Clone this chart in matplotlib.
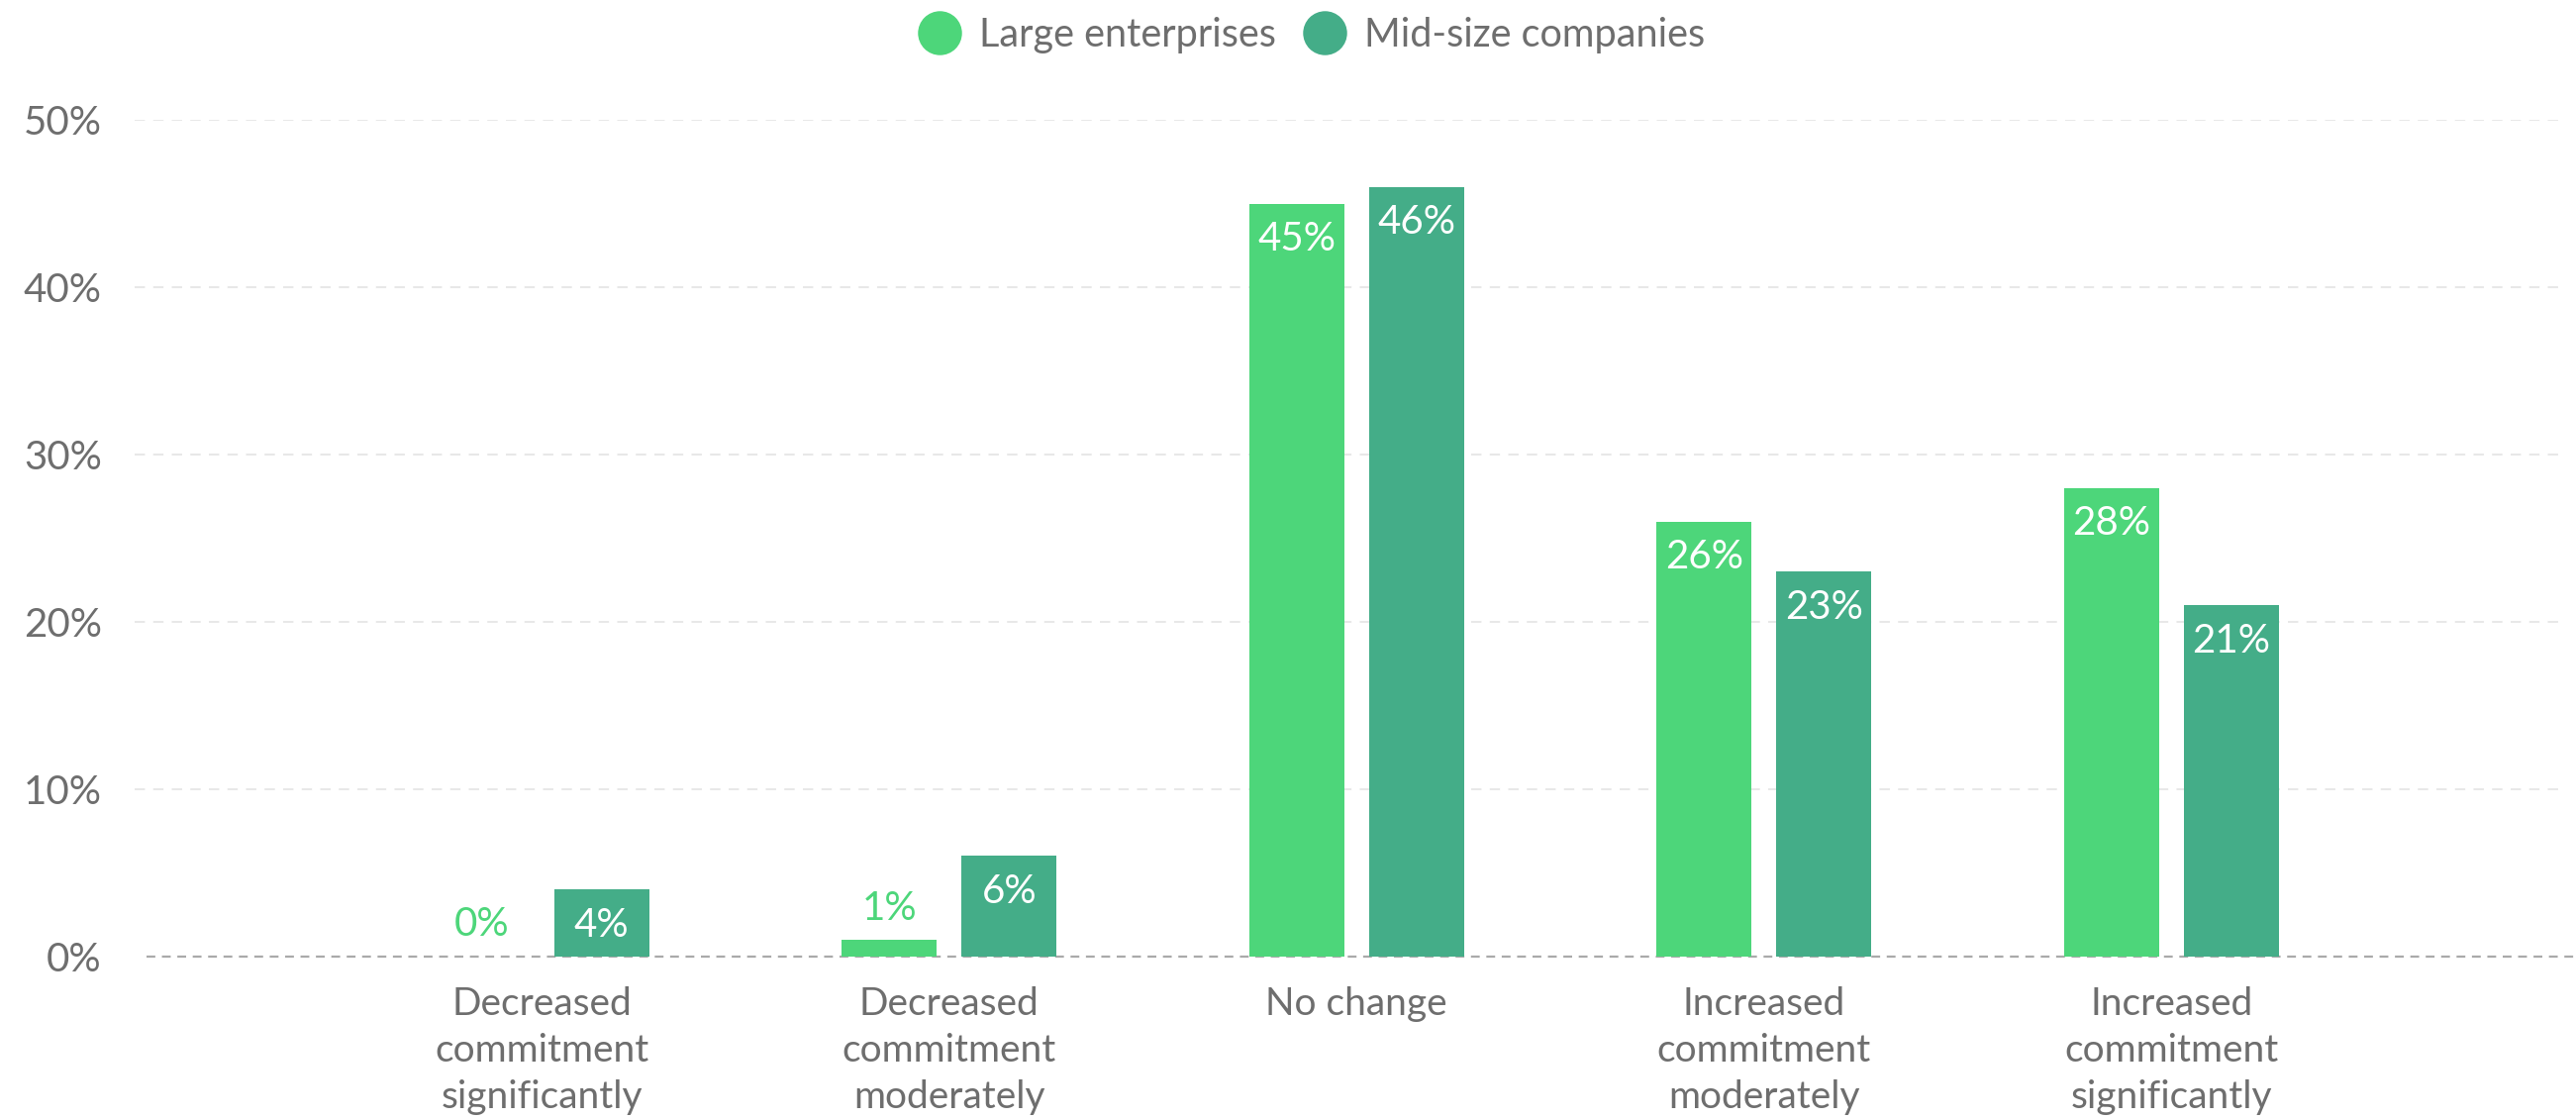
import matplotlib.pyplot as plt
from matplotlib.lines import Line2D

plt.rcParams['font.family'] = ['Lato', 'DejaVu Sans']

categories = ["Decreased\ncommitment\nsignificantly", "Decreased\ncommitment\nmoderately",
              "No change", "Increased\ncommitment\nmoderately", "Increased\ncommitment\nsignificantly"]
large = [0, 1, 45, 26, 28]
midsize = [4, 6, 46, 23, 21]
series_names = ["Large enterprises", "Mid-size companies"]
yticks = [0, 10, 20, 30, 40, 50]

c_large = '#4dd67a'
c_mid = '#44ad88'
txt = '#6e6e6e'

fig = plt.figure(figsize=(26.02, 11.31), dpi=100)
ax = fig.add_axes([0.0523, 0.146, 0.9428, 0.747])

x = list(range(len(categories)))
w = 0.234
off = 0.147

for vals, col, sign in [(large, c_large, -1), (midsize, c_mid, 1)]:
    xs = [i + sign * off for i in x]
    ax.bar(xs, vals, width=w, color=col, zorder=3)
    for xi, v in zip(xs, vals):
        if v >= 3:
            ax.annotate(f"{v}%", (xi, v), xytext=(0, -26), textcoords='offset points',
                        ha='center', va='center', color='white', fontsize=29, zorder=4)
        else:
            ax.annotate(f"{v}%", (xi, v), xytext=(0, 23), textcoords='offset points',
                        ha='center', va='center', color=col, fontsize=29, zorder=4)

ax.set_xlim(-0.999, 4.962)
ax.set_ylim(0, 50)
ax.set_yticks(yticks)
ax.set_yticklabels([f"{t}%" for t in yticks])
ax.set_xticks(x)
ax.set_xticklabels(categories, linespacing=1.37)
ax.tick_params(axis='y', length=0, pad=24, labelsize=29, labelcolor=txt)
ax.tick_params(axis='x', length=0, pad=22, labelsize=28, labelcolor=txt)

for t in yticks[1:]:
    ax.axhline(t, color='#e8e8e8', linestyle=(0, (5, 4)), linewidth=1.5, zorder=1)
ax.plot([0.005, 1.0053], [0, 0], transform=ax.get_yaxis_transform(), color='#aaaaaa',
        linestyle=(0, (4, 3)), linewidth=1.6, clip_on=False, zorder=2)

for s in ax.spines.values():
    s.set_visible(False)

handles = [Line2D([], [], marker='o', linestyle='none', markersize=31, color=c)
           for c in (c_large, c_mid)]
fig.legend(handles, series_names, loc='center', bbox_to_anchor=(0.5095, 0.969), ncol=2,
           frameon=False, fontsize=28.5, labelcolor=txt, handlelength=1.0,
           handletextpad=0.5, columnspacing=0.75)

fig.savefig('out.png', dpi=100)
